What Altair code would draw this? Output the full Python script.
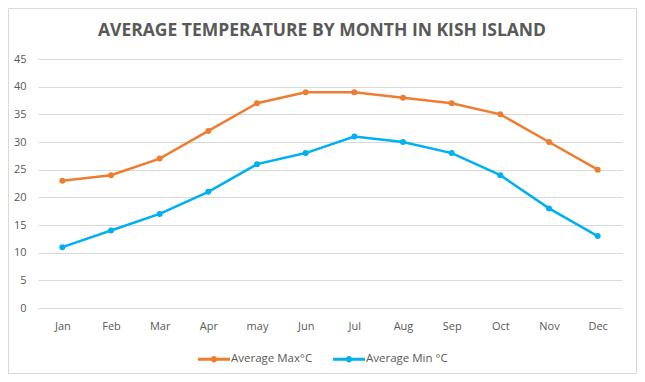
import altair as alt
import pandas as pd

months = ["Jan", "Feb", "Mar", "Apr", "may", "Jun", "Jul", "Aug", "Sep", "Oct", "Nov", "Dec"]
avg_max = [23, 24, 27, 32, 37, 39, 39, 38, 37, 35, 30, 25]
avg_min = [11, 14, 17, 21, 26, 28, 31, 30, 28, 24, 18, 13]
series_names = ["Average Max°C", "Average Min °C"]
y_ticks = [0, 5, 10, 15, 20, 25, 30, 35, 40, 45]

rows = []
for i, m in enumerate(months):
    rows.append({"month": m, "series": series_names[0], "value": avg_max[i]})
    rows.append({"month": m, "series": series_names[1], "value": avg_min[i]})
df = pd.DataFrame(rows)

W, H = 584, 249
FONT = "Open Sans"
GREY = "#595959"

cscale = alt.Scale(domain=series_names, range=["#ED7D31", "#00B0F0"])

x = alt.X(
    "month:N",
    sort=months,
    scale=alt.Scale(paddingInner=0, paddingOuter=0),
    axis=alt.Axis(title=None, labelAngle=0, ticks=False, domain=False, grid=False,
                  labelPadding=12, labelFontSize=11, labelColor=GREY, labelFont=FONT),
)
y = alt.Y(
    "value:Q",
    scale=alt.Scale(domain=[0, 45], nice=False),
    axis=alt.Axis(title=None, values=y_ticks, ticks=False, domain=False, grid=True,
                  gridColor="#D9D9D9", labelPadding=12, labelFontSize=11,
                  labelColor=GREY, labelFont=FONT),
)

base = alt.Chart(df)

frame = alt.Chart(pd.DataFrame({"a": [0]})).mark_rect(
    fill=None, stroke="#D9D9D9", strokeWidth=1
).encode(
    x=alt.value(-29.5), x2=alt.value(W + 14.5),
    y=alt.value(-50.5), y2=alt.value(H + 65.5),
)

lines = base.mark_line(strokeWidth=2.5).encode(
    x=x, y=y, color=alt.Color("series:N", scale=cscale, legend=None)
)

legend_path = ("M-1,-0.09 L1,-0.09 L1,0.09 L-1,0.09 Z "
               "M0.2,0 A0.2,0.2 0 1,1 -0.2,0 A0.2,0.2 0 1,1 0.2,0 Z")

points = base.mark_point(filled=True, size=36, opacity=1).encode(
    x=x, y=y,
    color=alt.Color(
        "series:N", scale=cscale,
        legend=alt.Legend(
            title=None, orient="none", direction="horizontal",
            legendX=W / 2 - 132, legendY=H + 35,
            symbolType=legend_path, symbolSize=1024, symbolStrokeWidth=0,
            labelFont=FONT, labelFontSize=11.5, labelColor=GREY,
            columnPadding=20, labelOffset=1,
        ),
    ),
)

chart = alt.layer(frame, lines, points).resolve_legend(color="independent").properties(
    width=W, height=H,
    title=alt.TitleParams(
        "AVERAGE TEMPERATURE BY MONTH IN KISH ISLAND",
        font=FONT, fontSize=17.5, fontWeight="bold", color=GREY,
        anchor="middle", offset=-31, dx=-8,
    ),
    autosize=alt.AutoSizeParams(type="none"),
    padding={"left": 30, "top": 51, "right": 15, "bottom": 66},
).configure_view(stroke=None)

chart.save("out.html", embed_options={"renderer": "svg", "actions": False})
